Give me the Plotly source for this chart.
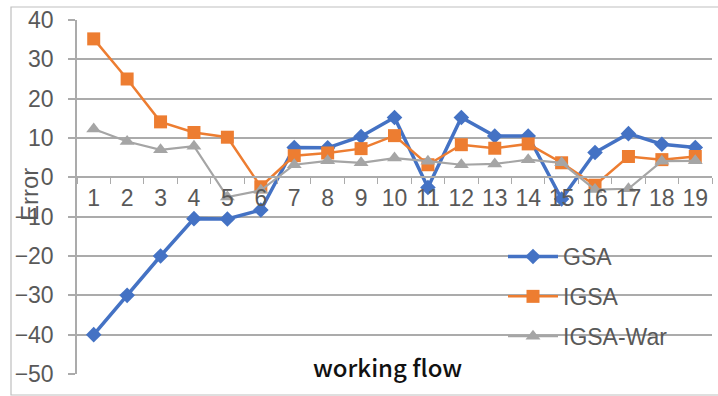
import plotly.graph_objects as go

# Error of each working flow for the three algorithms
flows = [str(i) for i in range(1, 20)]
gsa = [-40, -30, -20, -10.5, -10.6, -8.3, 7.6, 7.5, 10.4, 15.2, -2.6, 15.2, 10.5, 10.5,
       -5.5, 6.3, 11.1, 8.4, 7.6]
igsa = [35.2, 25.0, 14.1, 11.4, 10.2, -2.4, 5.5, 6.2, 7.3, 10.6, 3.2, 8.3, 7.4, 8.5,
        3.7, -2.0, 5.3, 4.5, 5.3]
igsa_war = [12.3, 9.1, 7.0, 7.9, -5.0, -3.3, 3.2, 4.2, 3.7, 4.9, 4.1, 3.2, 3.4, 4.5,
            3.7, -3.1, -2.9, 4.1, 4.2]
y_ticks = list(range(-50, 41, 10))

GRID = "#ABABAB"
TEXT = "#595959"
FONT = "Liberation Sans"

# plot-area geometry in pixels (used to place annotations/shapes)
L, R, T, B = 77, 712, 20, 374
W, H = R - L, B - T


def px_x(x):
    return (x - L) / W


def px_y(y):
    return (B - y) / H


fig = go.Figure()
fig.add_trace(go.Scatter(
    x=flows, y=gsa, name="GSA", mode="lines+markers", legendgroup="a",
    line=dict(color="#4472C4", width=3.5),
    marker=dict(symbol="diamond", size=12, color="#4472C4"),
))
fig.add_trace(go.Scatter(
    x=flows, y=igsa, name="IGSA", mode="lines+markers", legendgroup="b",
    line=dict(color="#ED7D31", width=2.5),
    marker=dict(symbol="square", size=13, color="#ED7D31"),
))
fig.add_trace(go.Scatter(
    x=flows, y=igsa_war, name="IGSA-War", mode="lines+markers", legendgroup="c",
    line=dict(color="#A5A5A5", width=2.2),
    marker=dict(symbol="triangle-up", size=13, color="#A5A5A5"),
))

fig.update_layout(
    width=718, height=396,
    margin=dict(l=L, r=718 - R, t=T, b=396 - B, pad=0),
    paper_bgcolor="white", plot_bgcolor="white",
    font=dict(family=FONT, size=23, color=TEXT),
    showlegend=True,
    legend=dict(
        x=px_x(503), y=px_y(235), xanchor="left", yanchor="top",
        bgcolor="rgba(0,0,0,0)", traceorder="grouped", tracegroupgap=7,
        font=dict(family=FONT, size=23, color=TEXT), itemwidth=50,
        itemsizing="trace",
    ),
    xaxis=dict(
        type="category", categoryorder="array", categoryarray=flows,
        range=[-0.5, 18.5], anchor="free", position=50 / 90,
        showline=True, linecolor=GRID, linewidth=1.5,
        ticks="outside", ticklen=6, tickcolor=GRID, tickwidth=1.2,
        tickson="boundaries", showgrid=False, tickangle=0,
        tickfont=dict(family=FONT, size=23, color=TEXT),
    ),
    yaxis=dict(
        range=[-50, 40], tickvals=y_ticks, showgrid=True, gridcolor=GRID, gridwidth=1.5,
        zeroline=False, showline=True, linecolor=GRID, linewidth=1.5,
        ticks="outside", ticklen=7, tickcolor=GRID, tickwidth=1.5,
        ticklabelstandoff=10,
        tickfont=dict(family=FONT, size=23, color=TEXT),
    ),
    annotations=[
        dict(text="working flow", xref="paper", yref="paper", x=px_x(387), y=px_y(366),
             xanchor="center", yanchor="middle", showarrow=False,
             font=dict(family="Noto Sans CJK SC", size=24, color="#111111", weight=500)),
        dict(text="Error", xref="paper", yref="paper", x=px_x(29), y=px_y(195),
             xanchor="center", yanchor="middle", showarrow=False, textangle=-90,
             font=dict(family=FONT, size=24, color=TEXT)),
    ],
    shapes=[
        dict(type="rect", xref="paper", yref="paper",
             x0=px_x(11), x1=px_x(722), y0=px_y(395), y1=px_y(7),
             line=dict(color="#BFBFBF", width=1.2), fillcolor="rgba(0,0,0,0)", layer="below"),
    ],
)

fig.write_html("out.html")
